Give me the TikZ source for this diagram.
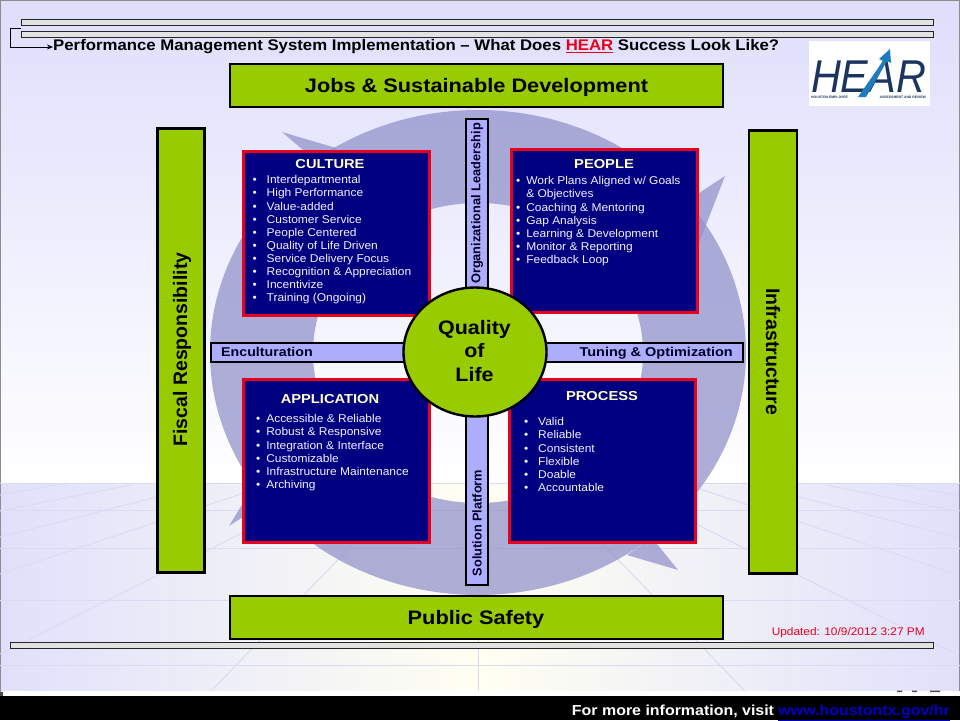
\documentclass[tikz,border=0pt]{standalone}
\usepackage{fontspec}
\setmainfont{Liberation Sans}
\usetikzlibrary{arrows.meta}
\definecolor{bgtop}{HTML}{DEDEFC}
\definecolor{floorside}{HTML}{E0E0FC}
\definecolor{floormid}{HTML}{FFFFF2}
\definecolor{floorline}{HTML}{DADAF4}
\definecolor{ringfill}{HTML}{9393CB}
\definecolor{leaf}{HTML}{99CC00}
\definecolor{barfill}{HTML}{ADADFB}
\definecolor{navybox}{HTML}{000080}
\definecolor{redline}{HTML}{E8001C}
\definecolor{head}{HTML}{FFFFCC}
\definecolor{listtext}{HTML}{F2F2FF}
\definecolor{railfill}{HTML}{E2E2E2}
\definecolor{logonavy}{HTML}{1B3560}
\definecolor{logoblue}{HTML}{1C7CBE}
\newcommand{\fsz}[2]{\fontsize{#1}{#2}\selectfont}
\newcommand{\itm}[2]{\makebox[#1][l]{\textbullet}#2\\}
\tikzset{
  x=1pt,y=-1pt,
  greenbox/.style={draw=black,line width=2.2pt,fill=leaf,inner sep=0pt},
  greentext/.style={inner sep=0pt,font=\bfseries\fsz{19.5}{22}},
  widen/.style={xscale=#1,transform shape},
  barbox/.style={draw=black,line width=2pt,fill=barfill,inner sep=0pt},
  bartext/.style={inner sep=0pt,font=\bfseries\fsz{12.8}{15},text=black!85!blue},
  bluebox/.style={draw=redline,line width=3pt,fill=navybox,inner sep=0pt},
  boxhead/.style={inner sep=0pt,text=head,font=\bfseries\fsz{13}{15},widen=1.13},
  boxlist/.style={inner sep=0pt,anchor=north west,align=left,text=listtext,font=\fsz{11.3}{13.1},widen=1.06},
  rail/.style={draw=black!85,line width=1pt,fill=railfill,inner sep=0pt},
  floorrule/.style={draw=floorline,line width=.9pt},
  ringpart/.style={fill=ringfill,fill opacity=.75},
}
\begin{document}
\begin{tikzpicture}
\useasboundingbox (0,0) rectangle (960,720);
% background
\shade[top color=bgtop,bottom color=white] (0,0) rectangle (960,483);
\shade[left color=floorside,right color=floorside,middle color=floormid] (0,483) rectangle (960,691);
\fill[white] (0,691) rectangle (960,696);
\draw[black!45,line width=1.5pt] (0,696) -- (0,0) -- (960,0) -- (960,691);
% floor
\draw[floorline,line width=1.6pt] (0,483.5) -- (960,483.5);
\foreach \yy in {510,548,600,665} \draw[floorrule] (0,\yy) -- (960,\yy);
\draw[floorrule] (478,483) -- (478,691);
\foreach \a/\b/\c/\d in {478/495/411/483,478/511/348/485,478/537/266/483,478/574/204/483,478/654/136/483,267/691/66/483}{
  \draw[floorrule] (478-\a,\b) -- (478-\c,\d);
  \draw[floorrule] (478+\a,\b) -- (478+\c,\d);
}
\fill[black!70] (0,692) rectangle (3,696);
\fill[black!70] (897,690.5) rectangle (902,692) (912,690.5) rectangle (917,692) (930,690.5) rectangle (940,692);
% ring and arrow heads
\fill[ringpart,even odd rule] (478,352.5) ellipse [x radius=268,y radius=242.5] (478,353) ellipse [x radius=165,y radius=150];
\fill[ringpart] (282,132) -- (336,148) -- (336,160) -- (303,160) -- (303,150) -- cycle;
\fill[ringpart] (725,176) -- (699,193) -- (690,193) -- (690,250) -- (699,243) -- cycle;
\fill[ringpart] (678,570) -- (627,555) -- (641,545.5) -- (641,540) -- (657,540) -- (657,544) -- cycle;
\fill[ringpart] (229,526) -- (243,503) -- (250,503) -- (250,517) -- (243,517) -- cycle;
% rails
\node[rail,minimum width=912pt,minimum height=6pt] (railA) at (477,22) {};
\node[rail,minimum width=912pt,minimum height=6pt] (railB) at (477,34) {};
\node[rail,minimum width=923pt,minimum height=6pt] (railC) at (471.5,645) {};
% title
\node[anchor=west,inner sep=0pt,font=\bfseries\fsz{15.4}{18},widen=1.089] (title) at (53,46.5) {Performance Management System Implementation – What Does \textcolor{redline}{\underline{HEAR}} Success Look Like?};
\coordinate (elbowA) at (10,28.3);
\coordinate (elbowB) at (10,47);
\coordinate (railStub) at (railB.north west);
\draw[-{Stealth[length=6pt,width=5pt]},line width=.7pt] (railStub|-elbowA) -- (elbowA) -- (elbowB) -- (elbowB-|title.west);
% logo
\node[fill=white,inner sep=0pt,minimum width=121pt,minimum height=65pt] (logo) at (869.5,73.5) {};
\node[inner sep=0pt,text=logonavy,font=\itshape\fsz{46}{50},widen=.9] (hear) at (868.5,76.5) {HEAR};
\fill[logoblue] (858,97) -- (883,61) -- (879,59) -- (890,49) -- (891,63) -- (887,61) -- (866,97) -- cycle;
\node[inner sep=0pt,anchor=west,text=logonavy,font=\bfseries\fsz{3.4}{4}] (capA) at (811,97.5) {HOUSTON EMPLOYEE};
\node[inner sep=0pt,anchor=east,text=logonavy,font=\bfseries\fsz{3.4}{4}] (capB) at (926,97.5) {ASSESSMENT AND REVIEW};
% green boxes
\node[greenbox,minimum width=493pt,minimum height=43pt] (jobs) at (476.7,85.5) {};
\node[greentext,widen=1.115] (jobsT) at (476.5,87) {Jobs \& Sustainable Development};
\node[greenbox,minimum width=493pt,minimum height=43pt] (safety) at (476.7,617.5) {};
\node[greentext,widen=1.115] (safetyT) at (476,619) {Public Safety};
\node[greenbox,minimum width=47pt,minimum height=444pt] (fiscal) at (181,350.5) {};
\node[greentext,rotate=90] (fiscalT) at (182,349.5) {Fiscal Responsibility};
\node[greenbox,minimum width=48pt,minimum height=443pt] (infra) at (773,352) {};
\node[greentext,rotate=-90] (infraT) at (773,351.5) {Infrastructure};
% bars
\node[barbox,minimum width=22pt,minimum height=190pt] (barN) at (476.5,214) {};
\node[barbox,minimum width=22pt,minimum height=190pt] (barS) at (476.5,490) {};
\node[barbox,minimum width=532pt,minimum height=19pt] (barH) at (477,352) {};
\node[bartext,rotate=90] (orgT) at (477,203.5) {Organizational Leadership};
\node[bartext,rotate=90] (solT) at (477,523) {Solution Platform};
\node[bartext,anchor=base west,widen=1.11] (encT) at (221,356) {Enculturation};
\node[bartext,anchor=base east,widen=1.13] (tunT) at (733,356) {Tuning \& Optimization};
% quadrant boxes
\node[bluebox,minimum width=186pt,minimum height=164pt] (culture) at (336.5,233.5) {};
\node[bluebox,minimum width=186pt,minimum height=163pt] (people) at (604.5,231) {};
\node[bluebox,minimum width=186pt,minimum height=163pt] (application) at (336.5,461) {};
\node[bluebox,minimum width=186pt,minimum height=163pt] (process) at (602.5,461) {};
\node[boxhead] (cultureH) at (330,164.5) {CULTURE};
\node[boxhead] (peopleH) at (604,164.5) {PEOPLE};
\node[boxhead] (applicationH) at (330,399) {APPLICATION};
\node[boxhead] (processH) at (602,396) {PROCESS};
\node[boxlist] (cultureL) at (252.5,175.5) {\itm{13.2pt}{Interdepartmental}\itm{13.2pt}{High Performance}\itm{13.2pt}{Value-added}\itm{13.2pt}{Customer Service}\itm{13.2pt}{People Centered}\itm{13.2pt}{Quality of Life Driven}\itm{13.2pt}{Service Delivery Focus}\itm{13.2pt}{Recognition \& Appreciation}\itm{13.2pt}{Incentivize}\itm{13.2pt}{Training (Ongoing)}};
\node[boxlist] (peopleL) at (516,176.5) {\itm{9.5pt}{Work Plans Aligned w/ Goals}\hspace*{9.5pt}\& Objectives\\\itm{9.5pt}{Coaching \& Mentoring}\itm{9.5pt}{Gap Analysis}\itm{9.5pt}{Learning \& Development}\itm{9.5pt}{Monitor \& Reporting}\itm{9.5pt}{Feedback Loop}};
\node[boxlist] (applicationL) at (256,414.5) {\itm{9.5pt}{Accessible \& Reliable}\itm{9.5pt}{Robust \& Responsive}\itm{9.5pt}{Integration \& Interface}\itm{9.5pt}{Customizable}\itm{9.5pt}{Infrastructure Maintenance}\itm{9.5pt}{Archiving}};
\node[boxlist] (processL) at (524,417.5) {\itm{13.2pt}{Valid}\itm{13.2pt}{Reliable}\itm{13.2pt}{Consistent}\itm{13.2pt}{Flexible}\itm{13.2pt}{Doable}\itm{13.2pt}{Accountable}};
% centre
\node[draw=black,line width=2.4pt,fill=leaf,circle,inner sep=0pt,minimum size=143pt,yscale=.902,transform shape] (centre) at (475,352) {};
\node[inner sep=0pt,font=\bfseries\fsz{19.5}{23.5},align=center,widen=1.1] (quality) at (474.5,351) {Quality\\of\\Life};
% notes
\node[inner sep=0pt,anchor=east,text=redline,font=\fsz{11}{13},widen=1.08] (updated) at (925,632.5) {Updated: 10/9/2012 3:27 PM};
\fill[black] (0,696) rectangle (960,720);
\node[inner sep=0pt,anchor=east,text=white,font=\bfseries\fsz{14.5}{17},widen=1.1] (more) at (950,713) {For more information, visit \textcolor[HTML]{0000C8}{\underline{www.houstontx.gov/hr}}};
\end{tikzpicture}
\end{document}
